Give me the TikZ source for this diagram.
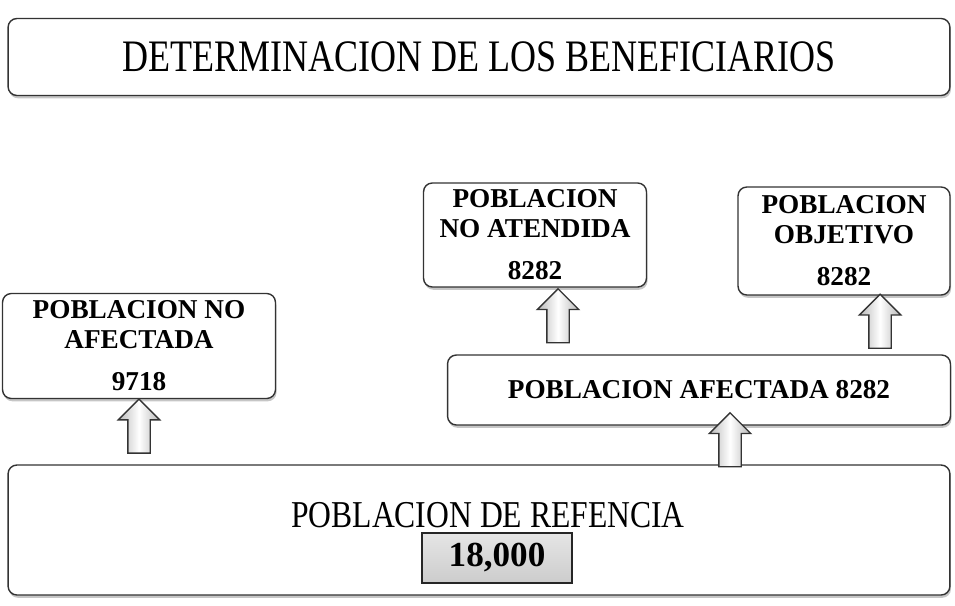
\documentclass[tikz,border=0pt]{standalone}
\usepackage{fontspec}
\setmainfont{Liberation Serif}
\usetikzlibrary{shapes.arrows,shadows}

\begin{document}
\begin{tikzpicture}
  [x=0.02cm, y=-0.02cm,
   box/.style={draw=black!80, thick, rounded corners=5pt, fill=white, align=center,
     drop shadow={shadow xshift=0.6pt, shadow yshift=-1.6pt, opacity=0.45}},
   bigbox/.style={box, font=\fontsize{20.5}{24}\selectfont},
   smallbox/.style={box, font=\bfseries\fontsize{15.5}{17}\selectfont},
   uparr/.style={draw=black!80, thick, single arrow, shape border rotate=90,
     single arrow head extend=0.19cm, inner sep=0.21cm, minimum height=1.08cm,
     left color=gray!55, right color=gray!55, middle color=white}]
  \useasboundingbox (0,0) rectangle (955,605);

  % titulo
  \node[bigbox, minimum width=18.84cm, minimum height=1.54cm] (title) at (479,57)
    {\scalebox{1}[1.25]{DETERMINACION DE LOS BENEFICIARIOS}};

  % poblaciones
  \node[smallbox, minimum width=5.46cm, minimum height=2.1cm] (noafect) at (139,346)
    {POBLACION NO\\AFECTADA\\[7pt]9718};
  \node[smallbox, minimum width=4.46cm, minimum height=2.08cm] (noaten) at (535,235)
    {POBLACION\\NO ATENDIDA\\[7pt]8282};
  \node[smallbox, minimum width=4.24cm, minimum height=2.16cm] (objet) at (844,241)
    {POBLACION\\OBJETIVO\\[7pt]8282};
  \node[smallbox, minimum width=10.06cm, minimum height=1.4cm] (afect) at (699,390)
    {POBLACION AFECTADA 8282};

  % referencia
  \node[box, minimum width=18.84cm, minimum height=2.6cm] (refer) at (479,530) {};
  \node[font=\fontsize{18}{21}\selectfont] (refname) at (488,515)
    {\scalebox{1}[1.2]{POBLACION DE REFENCIA}};
  \node[draw=black!85, thick, minimum width=3cm, minimum height=1cm,
    top color=gray!20, bottom color=gray!40, font=\bfseries\fontsize{20}{22}\selectfont]
    (refval) at (497,558) {18,000};

  % flechas
  \coordinate (a1) at (558,355);
  \coordinate (a2) at (880,358);
  \coordinate (a3) at (730,465);
  \path (noafect.south) -- node[uparr] {} (noafect.south |- refer.north);
  \path (a1) -- node[uparr] {} (a1 |- noaten.south);
  \path (a2) -- node[uparr] {} (a2 |- objet.south);
  \path (a3) -- node[uparr] {} (a3 |- afect.south);
\end{tikzpicture}
\end{document}
